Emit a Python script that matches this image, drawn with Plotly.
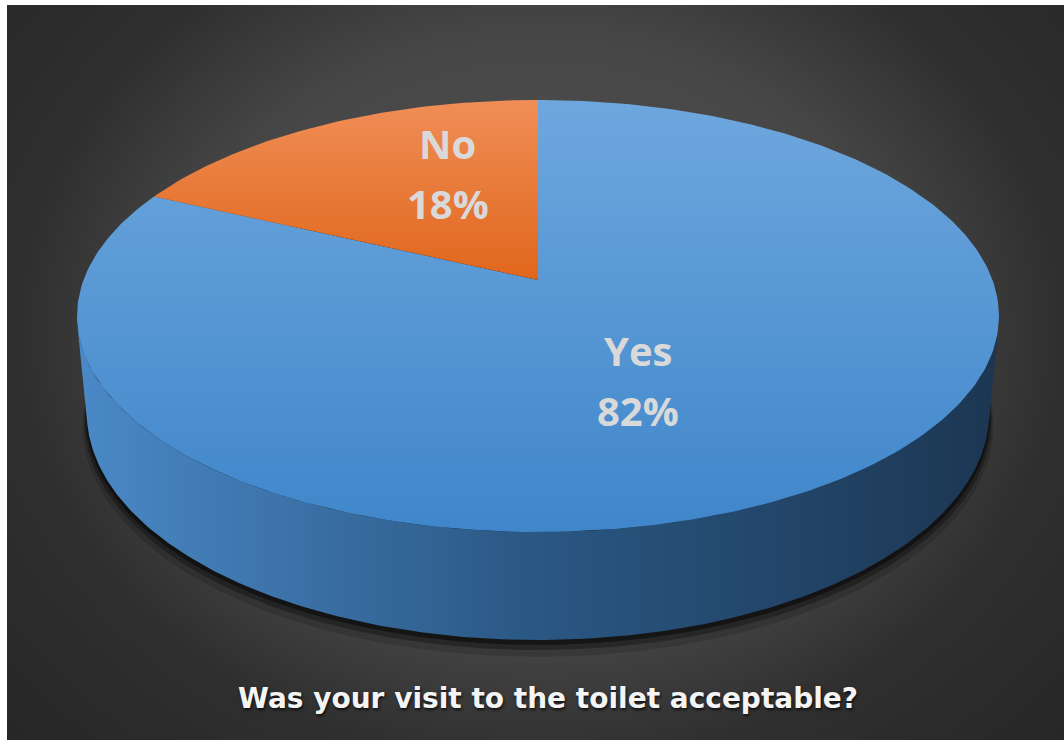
import numpy as np
import plotly.graph_objects as go

# ---------------- data ----------------
categories = ["Yes", "No"]
values = [82, 18]
title_text = "Was your visit to the toilet acceptable?"

# ---------------- style / geometry ----------------
W, H = 1064, 740
CX, CY = 538.0, 280.0          # projected pie centre (pixels)
SIN_T, COS_T = 0.462, 0.887    # camera tilt
DIST = 5.32                     # camera distance (in pie radii)
FOC = 2418.0                    # focal length (pixels)
DEPTH = 0.242                   # pie thickness (in pie radii)

top_grad = {
    "Yes": ["#6ea7de", "#3f86ca"],
    "No": ["#f08e57", "#e0661b"],
}
side_scale = [[0, "#4a89c7"], [0.5, "#2a5783"], [1, "#1c3652"]]


def proj(X, Y, Z):
    d = DIST + Y * COS_T - Z * SIN_T
    u = FOC * X / d
    v = FOC * (Y * SIN_T + Z * COS_T) / d
    return CX + u, CY - v


fig = go.Figure()

# background radial gradient (panel from x=7, y=5 to the page edge)
BX0, BY0 = 7.0, 5.0
nx, ny = 133, 92
dx = (W - BX0) / nx
dy = (H - BY0) / ny
xs = BX0 + dx / 2 + dx * np.arange(nx)
ys = BY0 + dy / 2 + dy * np.arange(ny)
XX, YY = np.meshgrid(xs, ys)
dd = np.sqrt(((XX - 540) / 600) ** 2 + ((YY - 330) / 500) ** 2)
dd = np.clip(dd, 0, 1.2)
fig.add_trace(go.Heatmap(
    x=xs, y=ys, z=dd, zmin=0, zmax=1.2, zsmooth="best", showscale=False,
    hoverinfo="skip",
    colorscale=[[0, "#565656"], [0.5, "#464646"], [0.725, "#2f2f2f"], [1, "#272727"]],
))

# shadow under the pie
tt = np.linspace(0, 2 * np.pi, 300)
for rr, dz, alpha in [(1.012, 0.03, 0.15), (1.007, 0.018, 0.3), (1.003, 0.009, 0.45)]:
    sx, sy = proj(rr * np.cos(tt), rr * np.sin(tt), -DEPTH - dz)
    fig.add_trace(go.Scatter(x=sx, y=sy, mode="lines", fill="toself",
                             fillcolor=f"rgba(0,0,0,{alpha})", line=dict(width=0),
                             hoverinfo="skip", showlegend=False))

# side wall (front visible part)
a = np.arcsin(1.0 / (DIST * COS_T))
ts = np.linspace(np.pi + a, 2 * np.pi - a, 300)
tx, ty = proj(np.cos(ts), np.sin(ts), 0)
bx, by = proj(np.cos(ts[::-1]), np.sin(ts[::-1]), -DEPTH)
px = np.concatenate([tx, bx])
py = np.concatenate([ty, by])
fig.add_trace(go.Scatter(
    x=px, y=py, mode="lines", fill="toself", line=dict(width=0),
    fillgradient=dict(type="horizontal", colorscale=side_scale,
                      start=float(px.min()), stop=float(px.max())),
    hoverinfo="skip", showlegend=False))

# top face slices (clockwise from 12 o'clock)
total = float(sum(values))
start = np.pi / 2
label_info = []
for cat, val in zip(categories, values):
    sweep = 2 * np.pi * val / total
    ang = np.linspace(start, start - sweep, max(20, int(400 * val / total)))
    ax, ay = proj(np.cos(ang), np.sin(ang), 0)
    x = np.concatenate([[CX], ax, [CX]])
    y = np.concatenate([[CY], ay, [CY]])
    c1, c2 = top_grad[cat]
    fig.add_trace(go.Scatter(
        x=x, y=y, mode="lines", fill="toself", line=dict(width=0),
        fillgradient=dict(type="vertical", colorscale=[[0, c1], [1, c2]],
                          start=float(y.min()), stop=float(y.max())),
        hoverinfo="skip", showlegend=False))
    mid = start - sweep / 2
    label_info.append((cat, val, mid))
    start -= sweep

LX, LY = 178.0, 122.0
lab_font = dict(family="Open Sans", size=40, color="#d9d9d9", weight="bold")
for cat, val, mid in label_info:
    lx = CX + 5 + LX * np.cos(mid)
    ly = CY - 3 - LY * np.sin(mid)
    fig.add_annotation(x=lx, y=ly - 30, text=cat, showarrow=False,
                       xref="x", yref="y", font=lab_font)
    fig.add_annotation(x=lx, y=ly + 30, text=f"{val / total:.0%}", showarrow=False,
                       xref="x", yref="y", font=lab_font)

fig.add_annotation(x=548, y=698, text=title_text, showarrow=False, xref="x", yref="y",
                   font=dict(family="DejaVu Sans", size=28, color="#f4f4f4", weight="bold",
                             shadow="1px 2px 3px rgba(0,0,0,0.7)"))

fig.update_layout(
    width=W, height=H, autosize=False,
    margin=dict(l=0, r=0, t=0, b=0, pad=0),
    paper_bgcolor="#ffffff", plot_bgcolor="#ffffff",
    showlegend=False,
    xaxis=dict(range=[0, W], visible=False, fixedrange=True),
    yaxis=dict(range=[H, 0], visible=False, fixedrange=True),
)

fig.write_html("out.html", config={"displayModeBar": False},
               post_script="document.body.style.margin='0px';document.body.style.overflow='hidden';")
